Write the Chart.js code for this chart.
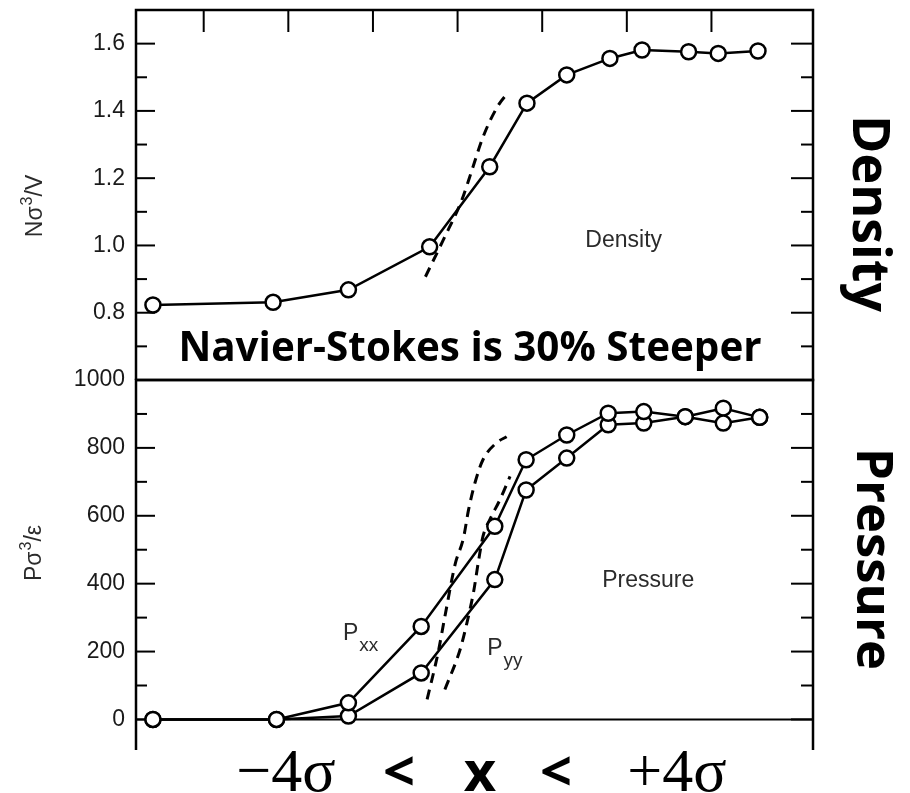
<!DOCTYPE html>
<html>
<head>
<meta charset="utf-8">
<script src="https://cdn.jsdelivr.net/npm/chart.js@4.4.0/dist/chart.umd.min.js"></script>
<style>
  html, body { margin: 0; padding: 0; background: #fff; }
  #wrap { position: relative; width: 910px; height: 793px; overflow: hidden; }
  #wrap canvas { position: absolute; left: 0; top: 0; }
</style>
</head>
<body>
<div id="wrap">
  <canvas id="densityChart" width="910" height="793"></canvas>
  <canvas id="pressureChart" width="910" height="793"></canvas>
</div>
<script>
// x is in tick units across the shock (top ticks sit at 1..7)
const xTickValues = [1, 2, 3, 4, 5, 6, 7];
const densityTicks = [0.8, 1.0, 1.2, 1.4, 1.6];
const pressureTicks = [0, 200, 400, 600, 800, 1000];

// molecular dynamics density profile
const densityX = [0.40, 1.82, 2.71, 3.67, 4.38, 4.82, 5.29, 5.80, 6.18, 6.73, 7.08, 7.55];
const densityY = [0.823, 0.831, 0.868, 0.996, 1.234, 1.423, 1.507, 1.556, 1.581, 1.576, 1.571, 1.578];

// Navier-Stokes density (dashed)
const densityNsX = [3.62, 3.83, 4.05, 4.17, 4.30, 4.47, 4.60];
const densityNsY = [0.907, 1.016, 1.135, 1.224, 1.322, 1.412, 1.456];

// molecular dynamics pressure tensor components
const pressureX = [0.40, 1.86, 2.71, 3.57, 4.44, 4.81, 5.29, 5.78, 6.20, 6.69, 7.14, 7.57];
const pxxY = [0, 0, 49, 274, 569, 765, 838, 902, 907, 892, 873, 890];
const pyyY = [0, 0, 10, 137, 412, 676, 770, 868, 873, 892, 917, 890];

// Navier-Stokes pressure components (dashed)
const pxxNsX = [3.64, 3.77, 3.85, 3.97, 4.07, 4.13, 4.21, 4.30, 4.46, 4.58];
const pxxNsY = [59, 197, 303, 456, 535, 618, 701, 765, 815, 833];
const pyyNsX = [3.85, 4.03, 4.11, 4.19, 4.25, 4.30, 4.38, 4.50, 4.62];
const pyyNsY = [88, 206, 284, 377, 471, 539, 588, 647, 716];

const toPoints = (xs, ys) => xs.map((x, i) => ({ x: x, y: ys[i] }));

const tickFont = { family: 'Liberation Sans', size: 23 };
const labelFont = '23px "Liberation Sans"';

function lineSet(data) {
  return {
    data: data, borderColor: '#000', borderWidth: 2.5,
    pointRadius: 0, tension: 0, order: 2
  };
}
function markerSet(data) {
  return {
    data: data, showLine: false, pointRadius: 7.5, pointBorderWidth: 2.5,
    pointBackgroundColor: '#fff', pointBorderColor: '#000', order: 0
  };
}
function dashSet(data) {
  return {
    data: data, borderColor: '#000', borderWidth: 3, borderDash: [10, 7],
    pointRadius: 0, cubicInterpolationMode: 'monotone', order: 1
  };
}

function fitFont(ctx, text, weight, family, width) {
  ctx.font = weight + ' 100px ' + family;
  const size = 100 * width / ctx.measureText(text).width;
  return weight + ' ' + size.toFixed(1) + 'px ' + family;
}

// rotated axis title like "Nσ3/V" with a raised 3, centred at (cx, cy)
function axisTitle(ctx, cx, cy, head, tail) {
  const big = '23px "Liberation Sans"', small = '16px "Liberation Sans"';
  ctx.save();
  ctx.font = big;
  const w1 = ctx.measureText(head).width, w3 = ctx.measureText(tail).width;
  ctx.font = small;
  const w2 = ctx.measureText('3').width + 1;
  ctx.translate(cx, cy);
  ctx.rotate(-Math.PI / 2);
  ctx.textAlign = 'left';
  ctx.textBaseline = 'alphabetic';
  let x0 = -(w1 + w2 + w3) / 2;
  ctx.font = big;
  ctx.fillText(head, x0, 8);
  ctx.font = small;
  ctx.fillText('3', x0 + w1 + 1, -2);
  ctx.font = big;
  ctx.fillText(tail, x0 + w1 + w2, 8);
  ctx.restore();
}

// frame box with inward ticks on both y sides (and along the top if asked)
const frameTicks = {
  id: 'frameTicks',
  beforeDatasetsDraw(chart, args, opts) {
    const { ctx, chartArea: a, scales } = chart;
    const y = scales.y, x = scales.x;
    const seg = (x1, y1, x2, y2) => { ctx.beginPath(); ctx.moveTo(x1, y1); ctx.lineTo(x2, y2); ctx.stroke(); };
    ctx.save();
    ctx.strokeStyle = '#000';
    ctx.lineWidth = 2.5;
    ctx.beginPath();
    ctx.moveTo(a.left, a.bottom);
    ctx.lineTo(a.left, a.top);
    ctx.lineTo(a.right, a.top);
    ctx.lineTo(a.right, a.bottom);
    if (opts.closeBottom) ctx.lineTo(a.left, a.bottom);
    ctx.stroke();
    if (opts.zeroLine) {
      ctx.lineWidth = 2;
      const yz = y.getPixelForValue(0);
      seg(a.left, yz, a.right, yz);
    }
    ctx.lineWidth = 2;
    const k0 = Math.ceil(y.min / opts.minorStep - 1e-6);
    const k1 = Math.floor(y.max / opts.minorStep + 1e-6);
    for (let k = k0; k <= k1; k++) {
      const v = k * opts.minorStep;
      const r = v / opts.majorStep;
      const major = Math.abs(r - Math.round(r)) < 1e-6;
      const py = y.getPixelForValue(v);
      seg(a.left, py, a.left + (major ? 19 : 11), py);
      seg(a.right, py, a.right - (major ? 22 : 12), py);
    }
    if (opts.topTicks) {
      xTickValues.forEach(v => {
        const px = x.getPixelForValue(v);
        seg(px, a.top, px, a.top + 22);
      });
    }
    ctx.restore();
  }
};

function yAxis(min, max, ticks, fmt) {
  return {
    type: 'linear', position: 'left', min: min, max: max,
    grid: { display: false, drawTicks: false },
    border: { display: false },
    ticks: { font: tickFont, color: '#1a1a1a', padding: 11, callback: fmt },
    afterBuildTicks: s => { s.ticks = ticks.map(v => ({ value: v })); },
    afterFit: s => { s.width = 136; s.paddingTop = 0; s.paddingBottom = 0; }
  };
}
const xAxis = { type: 'linear', min: 0.2, max: 8.2, display: false };

const densityText = {
  id: 'densityText',
  afterDraw(chart) {
    const { ctx, scales } = chart;
    const x = scales.x, y = scales.y;
    ctx.save();
    ctx.fillStyle = '#2b2b2b';
    ctx.font = labelFont;
    ctx.textAlign = 'left';
    ctx.textBaseline = 'alphabetic';
    ctx.fillText('Density', x.getPixelForValue(5.51), y.getPixelForValue(0.995));
    axisTitle(ctx, 34, 206, 'Nσ', '/V');

    // slide annotations
    ctx.fillStyle = '#000';
    ctx.font = fitFont(ctx, 'Navier-Stokes is 30% Steeper', 'bold', '"Open Sans"', 584);
    ctx.textAlign = 'center';
    ctx.fillText('Navier-Stokes is 30% Steeper', 470, 361);

    ctx.save();
    ctx.translate(853, 213.5);
    ctx.rotate(Math.PI / 2);
    ctx.font = fitFont(ctx, 'Density', 'bold', '"Open Sans"', 197);
    ctx.textAlign = 'center';
    ctx.fillText('Density', 0, 0);
    ctx.restore();
    ctx.restore();
  }
};

const pressureText = {
  id: 'pressureText',
  afterDraw(chart) {
    const { ctx, scales } = chart;
    const x = scales.x, y = scales.y;
    const subLabel = (xv, yv, main, sub) => {
      const px = x.getPixelForValue(xv), py = y.getPixelForValue(yv);
      ctx.font = labelFont;
      ctx.fillText(main, px, py);
      const w = ctx.measureText(main).width;
      ctx.font = '19px "Liberation Sans"';
      ctx.fillText(sub, px + w + 1, py + 11);
    };
    ctx.save();
    ctx.fillStyle = '#2b2b2b';
    ctx.textAlign = 'left';
    ctx.textBaseline = 'alphabetic';
    ctx.font = labelFont;
    ctx.fillText('Pressure', x.getPixelForValue(5.71), y.getPixelForValue(390));
    subLabel(2.646, 234, 'P', 'xx');
    subLabel(4.35, 190, 'P', 'yy');
    axisTitle(ctx, 33, 553, 'Pσ', '/ε');

    ctx.fillStyle = '#000';
    ctx.save();
    ctx.translate(857, 559);
    ctx.rotate(Math.PI / 2);
    ctx.font = fitFont(ctx, 'Pressure', 'bold', '"Open Sans"', 222);
    ctx.textAlign = 'center';
    ctx.fillText('Pressure', 0, 0);
    ctx.restore();

    // −4σ < x < +4σ
    ctx.textAlign = 'center';
    ctx.font = '62px "Liberation Serif"';
    ctx.fillText('−4σ', 286, 791);
    ctx.fillText('+4σ', 677, 791);
    ctx.font = 'bold 56px "Open Sans"';
    ctx.fillText('<', 399, 791);
    ctx.fillText('x', 480, 791);
    ctx.fillText('<', 556, 791);
    ctx.restore();
  }
};

const densityChart = new Chart(document.getElementById('densityChart'), {
  type: 'line',
  data: {
    datasets: [
      markerSet(toPoints(densityX, densityY)),
      dashSet(toPoints(densityNsX, densityNsY)),
      lineSet(toPoints(densityX, densityY))
    ]
  },
  options: {
    responsive: false,
    animation: false,
    layout: { padding: { left: 0, top: 10, right: 97, bottom: 413 } },
    scales: {
      x: xAxis,
      y: yAxis(0.6, 1.7, densityTicks, v => v.toFixed(1))
    },
    plugins: {
      legend: { display: false },
      tooltip: { enabled: false },
      frameTicks: { minorStep: 0.1, majorStep: 0.2, closeBottom: true, topTicks: true, zeroLine: false }
    }
  },
  plugins: [frameTicks, densityText]
});

const pressureChart = new Chart(document.getElementById('pressureChart'), {
  type: 'line',
  data: {
    datasets: [
      markerSet(toPoints(pressureX, pxxY)),
      markerSet(toPoints(pressureX, pyyY)),
      dashSet(toPoints(pxxNsX, pxxNsY)),
      dashSet(toPoints(pyyNsX, pyyNsY)),
      lineSet(toPoints(pressureX, pxxY)),
      lineSet(toPoints(pressureX, pyyY))
    ]
  },
  options: {
    responsive: false,
    animation: false,
    layout: { padding: { left: 0, top: 380, right: 97, bottom: 43 } },
    scales: {
      x: xAxis,
      y: yAxis(-90, 1000, pressureTicks, v => String(v))
    },
    plugins: {
      legend: { display: false },
      tooltip: { enabled: false },
      frameTicks: { minorStep: 100, majorStep: 200, closeBottom: false, topTicks: false, zeroLine: true }
    }
  },
  plugins: [frameTicks, pressureText]
});
</script>
</body>
</html>
